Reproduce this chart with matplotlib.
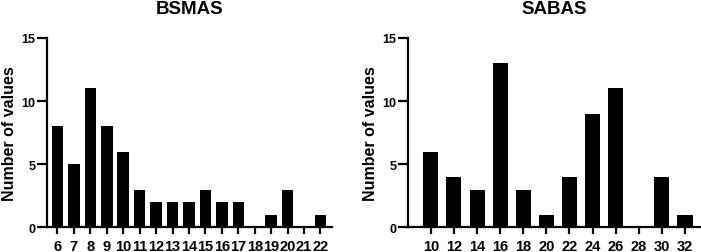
import matplotlib.pyplot as plt

plt.rcParams['font.family'] = 'Liberation Sans'
plt.rcParams['font.weight'] = 'bold'

# BSMAS histogram
bsmas_scores = [6, 7, 8, 9, 10, 11, 12, 13, 14, 15, 16, 17, 18, 19, 20, 21, 22]
bsmas_counts = [8, 5, 11, 8, 6, 3, 2, 2, 2, 3, 2, 2, 0, 1, 3, 0, 1]

# SABAS histogram
sabas_scores = [10, 12, 14, 16, 18, 20, 22, 24, 26, 28, 30, 32]
sabas_counts = [6, 4, 3, 13, 3, 1, 4, 9, 11, 0, 4, 1]

fig = plt.figure(figsize=(7.01, 2.53), dpi=100)
ax1 = fig.add_axes([0.067, 0.097, 0.4066, 0.749])
ax2 = fig.add_axes([0.582, 0.097, 0.4166, 0.749])


def style(ax, title, xticks, xlim):
    ax.set_title(title, fontsize=13.5, fontweight='bold', pad=18)
    ax.set_ylabel("Number of values", fontsize=11.5, fontweight='bold', labelpad=3)
    ax.set_ylim(0, 15)
    ax.set_yticks([0, 5, 10, 15])
    ax.set_xlim(*xlim)
    ax.set_xticks(xticks)
    ax.set_xticklabels([str(x) for x in xticks])
    ax.spines['top'].set_visible(False)
    ax.spines['right'].set_visible(False)
    ax.spines['left'].set_linewidth(1.6)
    ax.spines['bottom'].set_linewidth(1.6)
    ax.tick_params(axis='x', width=1.6, length=5, labelsize=10.5, pad=3.5)
    ax.tick_params(axis='y', width=1.6, length=7.5, labelsize=9, pad=1)
    for lab in ax.get_xticklabels() + ax.get_yticklabels():
        lab.set_fontweight('bold')


ax1.bar(bsmas_scores, bsmas_counts, width=0.7, color='black', edgecolor='none')
style(ax1, "BSMAS", bsmas_scores, (5.36, 22.7))

ax2.bar(sabas_scores, sabas_counts, width=1.3, color='black', edgecolor='none')
style(ax2, "SABAS", sabas_scores, (8.02, 33.3))

fig.savefig("out.png", dpi=100)
